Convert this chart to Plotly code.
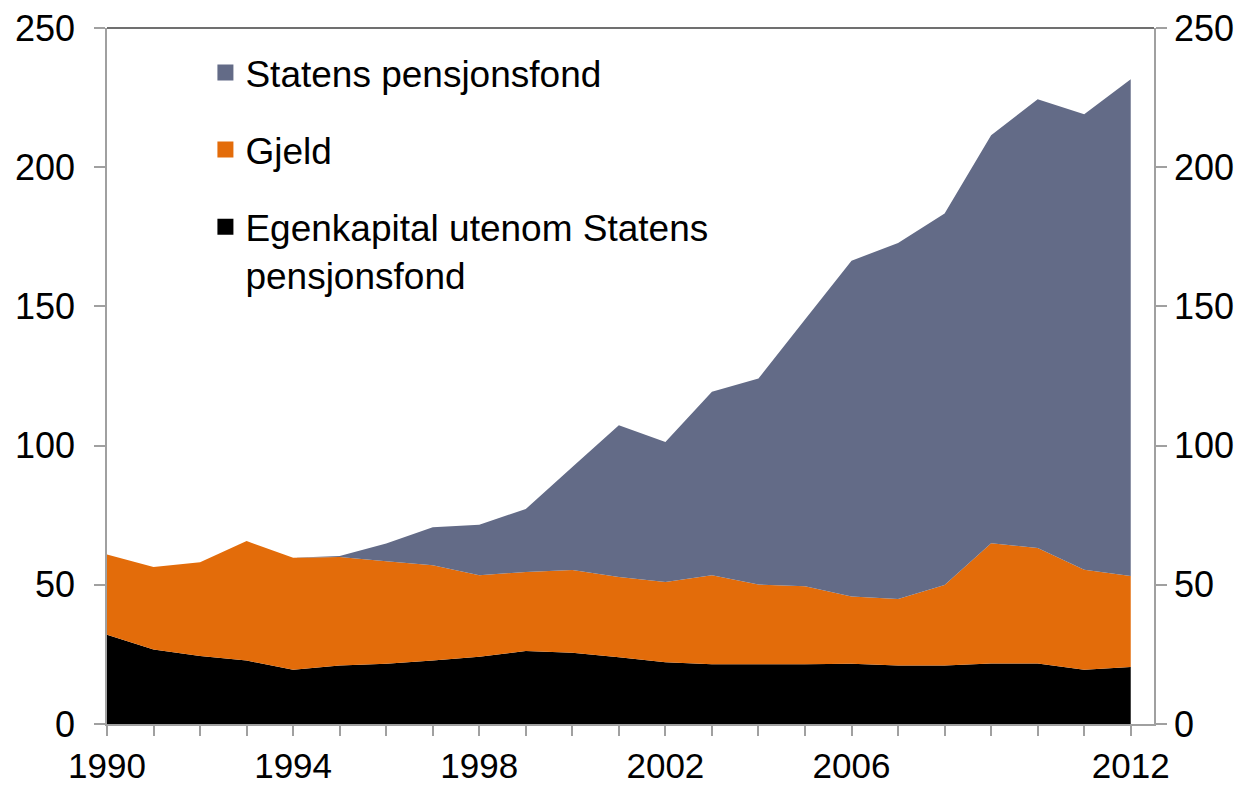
import plotly.graph_objects as go

years = list(range(1990, 2013))
egenkapital = [32.1, 26.8, 24.4, 22.8, 19.5, 21.0, 21.6, 22.8, 24.2, 26.2, 25.6, 24.0,
               22.2, 21.5, 21.5, 21.5, 21.6, 21.0, 21.0, 21.7, 21.7, 19.5, 20.5]
gjeld = [28.8, 29.6, 33.7, 42.9, 40.2, 39.0, 36.9, 34.2, 29.2, 28.4, 29.7, 28.8,
         28.8, 31.9, 28.6, 28.0, 24.2, 23.9, 28.9, 43.2, 41.5, 35.9, 32.7]
spf = [0, 0, 0, 0, 0, 0.3, 6.3, 13.7, 18.2, 22.6, 37.0, 54.5,
       50.3, 65.9, 74.0, 95.8, 120.6, 127.9, 133.5, 146.6, 161.2, 163.6, 178.4]

names = ["Egenkapital utenom Statens<br>pensjonsfond", "Gjeld", "Statens pensjonsfond"]
colors = ["#000000", "#E36C0A", "#636B87"]
series = [egenkapital, gjeld, spf]

xtick_vals = years
xtick_text = [str(y) if y in (1990, 1994, 1998, 2002, 2006, 2012) else "" for y in years]
ytick_vals = [0, 50, 100, 150, 200, 250]

fig = go.Figure()
for name, col, vals in zip(names, colors, series):
    fig.add_trace(go.Scatter(x=years, y=vals, stackgroup="one", mode="none",
                             fillcolor=col, line=dict(width=0), showlegend=False,
                             hoverinfo="x+y", name=name))

# legend proxies (square swatches), in the order shown in the reference
for i, (name, col) in enumerate(reversed(list(zip(names, colors)))):
    fig.add_trace(go.Scatter(x=[None], y=[None], mode="markers", name=name,
                             legendgroup=f"g{i}",
                             marker=dict(symbol="square", size=19, color=col)))

# invisible trace on secondary axis to show right axis
fig.add_trace(go.Scatter(x=[None], y=[None], yaxis="y2", showlegend=False, mode="none"))

axis_grey = "#A0A0A0"
font_family = "Liberation Sans, Arial, sans-serif"

# page body has an 8px margin, so the figure is sized/offset accordingly
fig.update_layout(
    width=1244, height=778,
    margin=dict(l=99, r=98, t=20, b=62, autoexpand=False),
    plot_bgcolor="white", paper_bgcolor="white",
    font=dict(family=font_family, size=36, color="black"),
    showlegend=True,
    legend=dict(x=0.094, y=0.98, xanchor="left", yanchor="top",
                traceorder="grouped", tracegroupgap=26, valign="top",
                font=dict(size=37, color="black"), bgcolor="rgba(0,0,0,0)",
                itemsizing="trace"),
    xaxis=dict(range=[1990, 2012.5], tickmode="array", tickvals=xtick_vals,
               ticktext=xtick_text, ticks="outside", ticklen=10, tickwidth=1.5,
               tickcolor=axis_grey, showline=True, linecolor=axis_grey, linewidth=1.5,
               showgrid=False, zeroline=False, tickfont=dict(size=35), automargin=False),
    yaxis=dict(range=[0, 250], tickvals=ytick_vals, ticks="outside", ticklen=11,
               tickwidth=1.5, tickcolor=axis_grey, showline=True, linecolor=axis_grey,
               linewidth=1.5, showgrid=False, zeroline=False, tickfont=dict(size=36),
               automargin=False, ticklabelstandoff=12, ticklabeloverflow="allow"),
    yaxis2=dict(range=[0, 250], tickvals=ytick_vals, overlaying="y", side="right",
                ticks="outside", ticklen=11, tickwidth=1.5, tickcolor=axis_grey,
                showline=True, linecolor=axis_grey, linewidth=1.5, showgrid=False,
                zeroline=False, tickfont=dict(size=36), automargin=False,
                ticklabeloverflow="allow"),
    shapes=[dict(type="line", xref="paper", yref="paper", x0=0, x1=1, y0=1, y1=1,
                 line=dict(color="#404040", width=1.5))],
)

fig.write_html("out.html")
